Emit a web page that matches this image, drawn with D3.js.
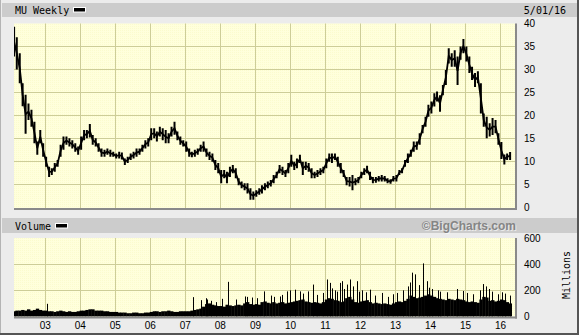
<!DOCTYPE html>
<html>
<head>
<meta charset="utf-8">
<script src="https://cdn.jsdelivr.net/npm/d3@7"></script>
<style>
  body { margin: 0; background: #ececec; }
  svg { display: block; }
</style>
</head>
<body>
<svg id="chart" width="579" height="335"></svg>
<script>
// Monthly high / low of MU weekly bars, Feb 2002 .. Apr 2016
const priceHi = [
  39.3, 37, 33.5, 27, 24.5, 22.6, 21.2, 18.6, 14.3, 16.8, 13.9,            // 2002
  11, 8.8, 8.5, 9.6, 10.3, 13.6, 15.4, 15.4, 15, 14.6, 13.9, 13.2,         // 2003
  15.4, 16.8, 16.8, 18.1, 15.7, 15, 13.9, 12.8, 12.5, 12.8, 12.5, 12.1,    // 2004
  11.7, 12.1, 11.9, 10.6, 11, 11.7, 12.1, 12.8, 12.8, 13.6, 14.6, 15,      // 2005
  17.2, 17.2, 16.5, 17.5, 17.2, 16.8, 16.1, 17.5, 18.6, 16.5, 15.4, 14.6,  // 2006
  14.3, 12.8, 12.1, 12.5, 12.8, 13.6, 14.3, 12.8, 12.1, 11.7, 10.3, 9.6,   // 2007
  8.1, 8.1, 7.7, 8.8, 9.2, 8.5, 6.3, 5.6, 5.2, 5.2, 4.1, 3.4,              // 2008
  3.7, 4.1, 4.8, 5.2, 5.6, 5.9, 7, 7.7, 9.2, 8.8, 8.1, 9.6,                // 2009
  11.4, 9.9, 10.6, 11.4, 9.9, 9.9, 9.6, 8.5, 7.7, 8.1, 8.5, 8.8,           // 2010
  10.6, 11.7, 11.7, 11.7, 11, 9.6, 8.1, 6.6, 6.6, 7, 6.3, 6.6,             // 2011
  7.7, 8.5, 9, 7.7, 6.6, 6.6, 6.8, 7, 6.8, 6.3, 6.1, 6.8,                  // 2012
  7, 8.1, 8.5, 10.3, 11.7, 12.5, 14.3, 14.3, 16.1, 17.9, 19.7, 22.3,       // 2013
  23, 24.8, 25.2, 24.4, 26.6, 29.9, 34.6, 33.5, 34.2, 32.8, 35, 36.6,      // 2014
  35, 32.8, 30.6, 29.2, 29.6, 27, 20.4, 19.7, 18.3, 19.4, 19, 16.1,        // 2015
  14.2, 11.5, 11.7, 12                                                     // 2016
];
const priceLo = [
  32.8, 30, 27, 22, 16, 19, 17.5, 13.9, 11.4, 13.9, 11,
  8.8, 6.6, 7, 7.7, 8.8, 11, 12.5, 13.6, 13.2, 12.8, 12.1, 11.4,
  12.5, 14.6, 15, 15.2, 13.6, 13.2, 12.1, 11, 11, 11.4, 11, 11,
  10.6, 10.6, 10.4, 9.2, 9.6, 10.3, 10.6, 11, 11.4, 12.1, 12.8, 13.2,
  14.6, 15, 14.3, 15.4, 14.6, 13.9, 13.9, 15.4, 15.8, 14.6, 13.6, 13.2,
  12.1, 11, 10.9, 11, 11.4, 12.1, 12.1, 11, 10.3, 9.9, 8.1, 7.4,
  5.2, 6.3, 5.2, 6.6, 7.4, 6.3, 4.8, 4.1, 3.7, 3, 1.6, 1.6,
  2.3, 2.7, 3, 3.7, 4.1, 4.5, 5.2, 6.3, 7.4, 7, 6.6, 7.4,
  8.8, 8.1, 8.5, 9.6, 7, 8.1, 7.7, 6.3, 6.3, 6.6, 7, 7.4,
  8.5, 9.9, 9.6, 10.3, 8.8, 7.4, 6.6, 4.8, 4.5, 3.7, 4.8, 5.2,
  6.3, 7, 7.4, 5.9, 5.2, 5.3, 5.6, 5.6, 5.6, 5.2, 5.1, 5.6,
  5.6, 7, 7.4, 8.8, 9.6, 11, 12.1, 12.5, 13.6, 16.1, 17.5, 19.7,
  20.4, 21.9, 23, 20.8, 24.4, 26.6, 31.3, 30.6, 30.6, 26.6, 32.1, 33.5,
  31.7, 29.2, 27.7, 26.2, 27, 20.4, 17.5, 15, 15.4, 15.7, 16.1, 13.6,
  10.5, 9.3, 10.3, 10.3
];

// Typical weekly volume per month (millions)
const volume = [
  40, 45, 45, 50, 45, 55, 45, 50, 60, 50, 45,
  45, 40, 40, 35, 40, 45, 40, 35, 40, 35, 35, 40,
  45, 45, 50, 55, 55, 45, 45, 45, 40, 40, 35, 35,
  35, 30, 30, 30, 25, 25, 30, 30, 25, 25, 30, 30,
  35, 40, 40, 35, 40, 40, 45, 40, 35, 35, 40, 40,
  40, 40, 45, 50, 55, 60, 75, 95, 100, 90, 85, 80,
  80, 75, 90, 85, 80, 85, 90, 85, 100, 110, 95, 90,
  95, 90, 110, 115, 105, 100, 110, 100, 105, 110, 100, 105,
  110, 115, 120, 125, 130, 115, 110, 105, 110, 105, 100, 110,
  130, 140, 135, 125, 120, 110, 115, 140, 150, 130, 110, 105,
  115, 120, 125, 110, 100, 105, 100, 95, 100, 95, 90, 100,
  110, 115, 110, 120, 135, 160, 150, 140, 145, 150, 160, 170,
  160, 150, 140, 135, 130, 125, 135, 130, 125, 135, 130, 125,
  115, 110, 115, 110, 105, 130, 150, 145, 120, 125, 115, 120,
  130, 125, 110, 100
];

// Single heavy weeks (date, millions)
const volSpikes = [
  ["2003-01-20", 97], ["2007-04-01", 148], ["2007-06-15", 125], ["2007-08-10", 140],
  ["2007-08-25", 130], ["2007-10-05", 120], ["2007-11-20", 110], ["2008-01-20", 135],
  ["2008-03-31", 265], ["2008-06-20", 130], ["2008-09-20", 153], ["2008-10-10", 150],
  ["2008-12-05", 145], ["2009-01-25", 140], ["2009-04-01", 192], ["2009-06-15", 160],
  ["2009-07-20", 150], ["2009-09-20", 153], ["2009-10-10", 165], ["2009-11-28", 192],
  ["2010-01-02", 200], ["2010-02-20", 205], ["2010-04-20", 192], ["2010-05-20", 175],
  ["2010-07-12", 192], ["2010-09-01", 244], ["2010-10-15", 165], ["2010-12-10", 180],
  ["2011-01-22", 283], ["2011-02-24", 257], ["2011-03-20", 215], ["2011-04-15", 200],
  ["2011-05-10", 190], ["2011-06-10", 257], ["2011-06-28", 270], ["2011-07-20", 210],
  ["2011-08-18", 244], ["2011-09-20", 283], ["2011-10-20", 230], ["2011-11-28", 270],
  ["2011-12-20", 190], ["2012-01-20", 200], ["2012-02-28", 185], ["2012-04-15", 205],
  ["2012-06-10", 160], ["2012-08-18", 180], ["2012-10-20", 150], ["2012-12-10", 170],
  ["2013-01-20", 180], ["2013-03-20", 200], ["2013-05-20", 230], ["2013-06-10", 260],
  ["2013-06-28", 335], ["2013-07-30", 322], ["2013-09-10", 240], ["2013-10-20", 406],
  ["2013-11-28", 270], ["2013-12-20", 220], ["2014-01-25", 210], ["2014-03-20", 200],
  ["2014-04-20", 190], ["2014-07-01", 185], ["2014-10-08", 210], ["2014-12-15", 195],
  ["2015-01-20", 180], ["2015-03-20", 170], ["2015-06-10", 200], ["2015-07-05", 248],
  ["2015-08-10", 230], ["2015-09-12", 210], ["2015-10-10", 190], ["2015-12-10", 170],
  ["2016-01-22", 185], ["2016-02-20", 175], ["2016-04-10", 160]
];

const years = d3.range(2003, 2017);
const priceTicks = [0, 5, 10, 15, 20, 25, 30, 35, 40];
const volTicks = [0, 200, 400, 600];

const months = d3.timeMonth.range(new Date(2002, 1, 1), new Date(2016, 4, 1))
    .map(function(d) { return d3.timeDay.offset(d, 14); });
const bars = months.map(function(d, i) {
    return {date: d, hi: priceHi[i], lo: priceLo[i], vol: volume[i]};
});

// Plot boxes
const left = 14, right = 515;
const pTop = 23.5, pBottom = 208;
const vTop = 238, vBottom = 316.5;
const gridColor = "#cdcd98";
const mono = "DejaVu Sans Mono";
const sans = "Liberation Sans";

let x = d3.scaleTime()
    .domain([new Date(2002, 1, 14), new Date(2016, 5, 5)])
    .range([left, right]);
let y = d3.scaleLinear().domain([0, 40]).range([207.2, pTop]);
let yv = d3.scaleLinear().domain([0, 600]).range([vBottom, vTop]);

const svg = d3.select("#chart");

// frame and header bars
svg.append("rect").attr("width", 579).attr("height", 335).attr("fill", "#ececec");
svg.append("rect").attr("x", 2).attr("y", 3).attr("width", 575).attr("height", 14).attr("fill", "#cccccc");
svg.append("rect").attr("x", 2).attr("y", 218).attr("width", 575).attr("height", 15).attr("fill", "#cccccc");
svg.append("line").attr("x1", 0.5).attr("x2", 0.5).attr("y1", 0).attr("y2", 335).attr("stroke", "#b4b4b4");
svg.append("line").attr("x1", 578).attr("x2", 578).attr("y1", 0).attr("y2", 335).attr("stroke", "#555").attr("stroke-width", 2);
svg.append("line").attr("x1", 0).attr("x2", 579).attr("y1", 334).attr("y2", 334).attr("stroke", "#555").attr("stroke-width", 2);

// dotted yellow background
let defs = svg.append("defs");
let pat = defs.append("pattern").attr("id", "dots")
    .attr("width", 2).attr("height", 2).attr("patternUnits", "userSpaceOnUse");
pat.append("rect").attr("width", 2).attr("height", 2).attr("fill", "#ffffdc");
pat.append("rect").attr("width", 1).attr("height", 1).attr("fill", "#fbfbce");
defs.append("clipPath").attr("id", "clipP").append("rect")
    .attr("x", left).attr("y", pTop).attr("width", right - left).attr("height", pBottom - pTop);
defs.append("clipPath").attr("id", "clipV").append("rect")
    .attr("x", left).attr("y", vTop).attr("width", right - left).attr("height", vBottom - vTop);

function panel(y0, y1, yScale, hTicks) {
    svg.append("rect").attr("x", left).attr("y", y0)
        .attr("width", right - left).attr("height", y1 - y0).attr("fill", "url(#dots)");
    let g = svg.append("g").attr("stroke", gridColor).attr("stroke-width", 1);
    g.selectAll(".v").data(years).enter().append("line")
        .attr("x1", function(d) { return Math.round(x(new Date(d, 0, 1))) + 0.5; })
        .attr("x2", function(d) { return Math.round(x(new Date(d, 0, 1))) + 0.5; })
        .attr("y1", y0).attr("y2", y1);
    g.selectAll(".h").data(hTicks).enter().append("line")
        .attr("x1", left).attr("x2", right)
        .attr("y1", function(d) { return Math.round(yScale(d)) + 0.5; })
        .attr("y2", function(d) { return Math.round(yScale(d)) + 0.5; });
    // shadow on right and bottom
    svg.append("line").attr("x1", right + 1).attr("x2", right + 1).attr("y1", y0).attr("y2", y1 + 2)
        .attr("stroke", "#8a8a8a").attr("stroke-width", 2);
    svg.append("line").attr("x1", left).attr("x2", right + 2).attr("y1", y1 + 1).attr("y2", y1 + 1)
        .attr("stroke", "#8a8a8a").attr("stroke-width", 2);
}
panel(pTop, pBottom, y, [5, 10, 15, 20, 25, 30, 35]);
panel(vTop, vBottom, yv, [200, 400]);

// price: monthly high-low bars joined by a line
let priceG = svg.append("g").attr("clip-path", "url(#clipP)");
let midline = d3.line()
    .x(function(d) { return x(d.date); })
    .y(function(d) { return y((d.hi + d.lo) / 2); });
priceG.append("path").datum(bars)
    .attr("fill", "none").attr("stroke", "#000").attr("stroke-width", 1.8)
    .attr("d", midline);
priceG.selectAll(".bar").data(bars).enter().append("line")
    .attr("x1", function(d) { return x(d.date); })
    .attr("x2", function(d) { return x(d.date); })
    .attr("y1", function(d) { return y(d.hi); })
    .attr("y2", function(d) { return y(d.lo); })
    .attr("stroke", "#000").attr("stroke-width", 2);

// volume
let volG = svg.append("g").attr("clip-path", "url(#clipV)");
let bw = x(new Date(2010, 1, 1)) - x(new Date(2010, 0, 1));
volG.selectAll(".vb").data(bars).enter().append("rect")
    .attr("x", function(d) { return x(d.date) - bw / 2; })
    .attr("width", bw + 0.4)
    .attr("y", function(d) { return yv(d.vol); })
    .attr("height", function(d) { return vBottom - yv(d.vol); })
    .attr("fill", "#000");
volG.selectAll(".vs").data(volSpikes).enter().append("line")
    .attr("x1", function(d) { return Math.round(x(new Date(d[0]))) + 0.5; })
    .attr("x2", function(d) { return Math.round(x(new Date(d[0]))) + 0.5; })
    .attr("y1", function(d) { return yv(d[1]); })
    .attr("y2", vBottom)
    .attr("stroke", "#000").attr("stroke-width", 1);

// right axes
let yAxis = d3.axisRight(y).tickValues(priceTicks).tickSize(0).tickPadding(9);
let gy = svg.append("g").attr("transform", "translate(" + right + ",0)").call(yAxis);
let vAxis = d3.axisRight(yv).tickValues(volTicks).tickSize(0).tickPadding(9);
let gv = svg.append("g").attr("transform", "translate(" + right + ",0)").call(vAxis);

// x axis
let xAxis = d3.axisBottom(x)
    .tickValues(years.map(function(d) { return new Date(d, 0, 1); }))
    .tickFormat(d3.timeFormat("%y")).tickSize(0).tickPadding(5);
let gx = svg.append("g").attr("transform", "translate(0," + vBottom + ")").call(xAxis);

[gy, gv, gx].forEach(function(g) {
    g.select(".domain").remove();
    g.selectAll("text").attr("font-family", sans).attr("font-size", 10).attr("fill", "#000");
});

// labels
svg.append("text").attr("x", 15).attr("y", 13.5).attr("font-family", mono).attr("font-size", 10)
    .text("MU Weekly");
svg.append("rect").attr("x", 73.5).attr("y", 7.5).attr("width", 12).attr("height", 4.5)
    .attr("fill", "#000").attr("stroke", "#fff");
svg.append("text").attr("x", 566).attr("y", 13.5).attr("text-anchor", "end")
    .attr("font-family", mono).attr("font-size", 10).text("5/01/16");
svg.append("text").attr("x", 15).attr("y", 229.5).attr("font-family", mono).attr("font-size", 10)
    .text("Volume");
svg.append("rect").attr("x", 55.5).attr("y", 223.5).attr("width", 12).attr("height", 4.5)
    .attr("fill", "#000").attr("stroke", "#fff");
svg.append("text").attr("x", 516).attr("y", 230).attr("text-anchor", "end")
    .attr("font-family", sans).attr("font-weight", "bold").attr("font-size", 12)
    .attr("fill", "#fff").attr("opacity", 0.6).attr("dx", 1).attr("dy", 1).text("©BigCharts.com");
svg.append("text").attr("x", 516).attr("y", 230).attr("text-anchor", "end")
    .attr("font-family", sans).attr("font-weight", "bold").attr("font-size", 12)
    .attr("fill", "#858585").text("©BigCharts.com");
svg.append("text").attr("transform", "translate(570,275) rotate(-90)")
    .attr("text-anchor", "middle").attr("font-family", mono).attr("font-size", 10)
    .text("Millions");
</script>
</body>
</html>
